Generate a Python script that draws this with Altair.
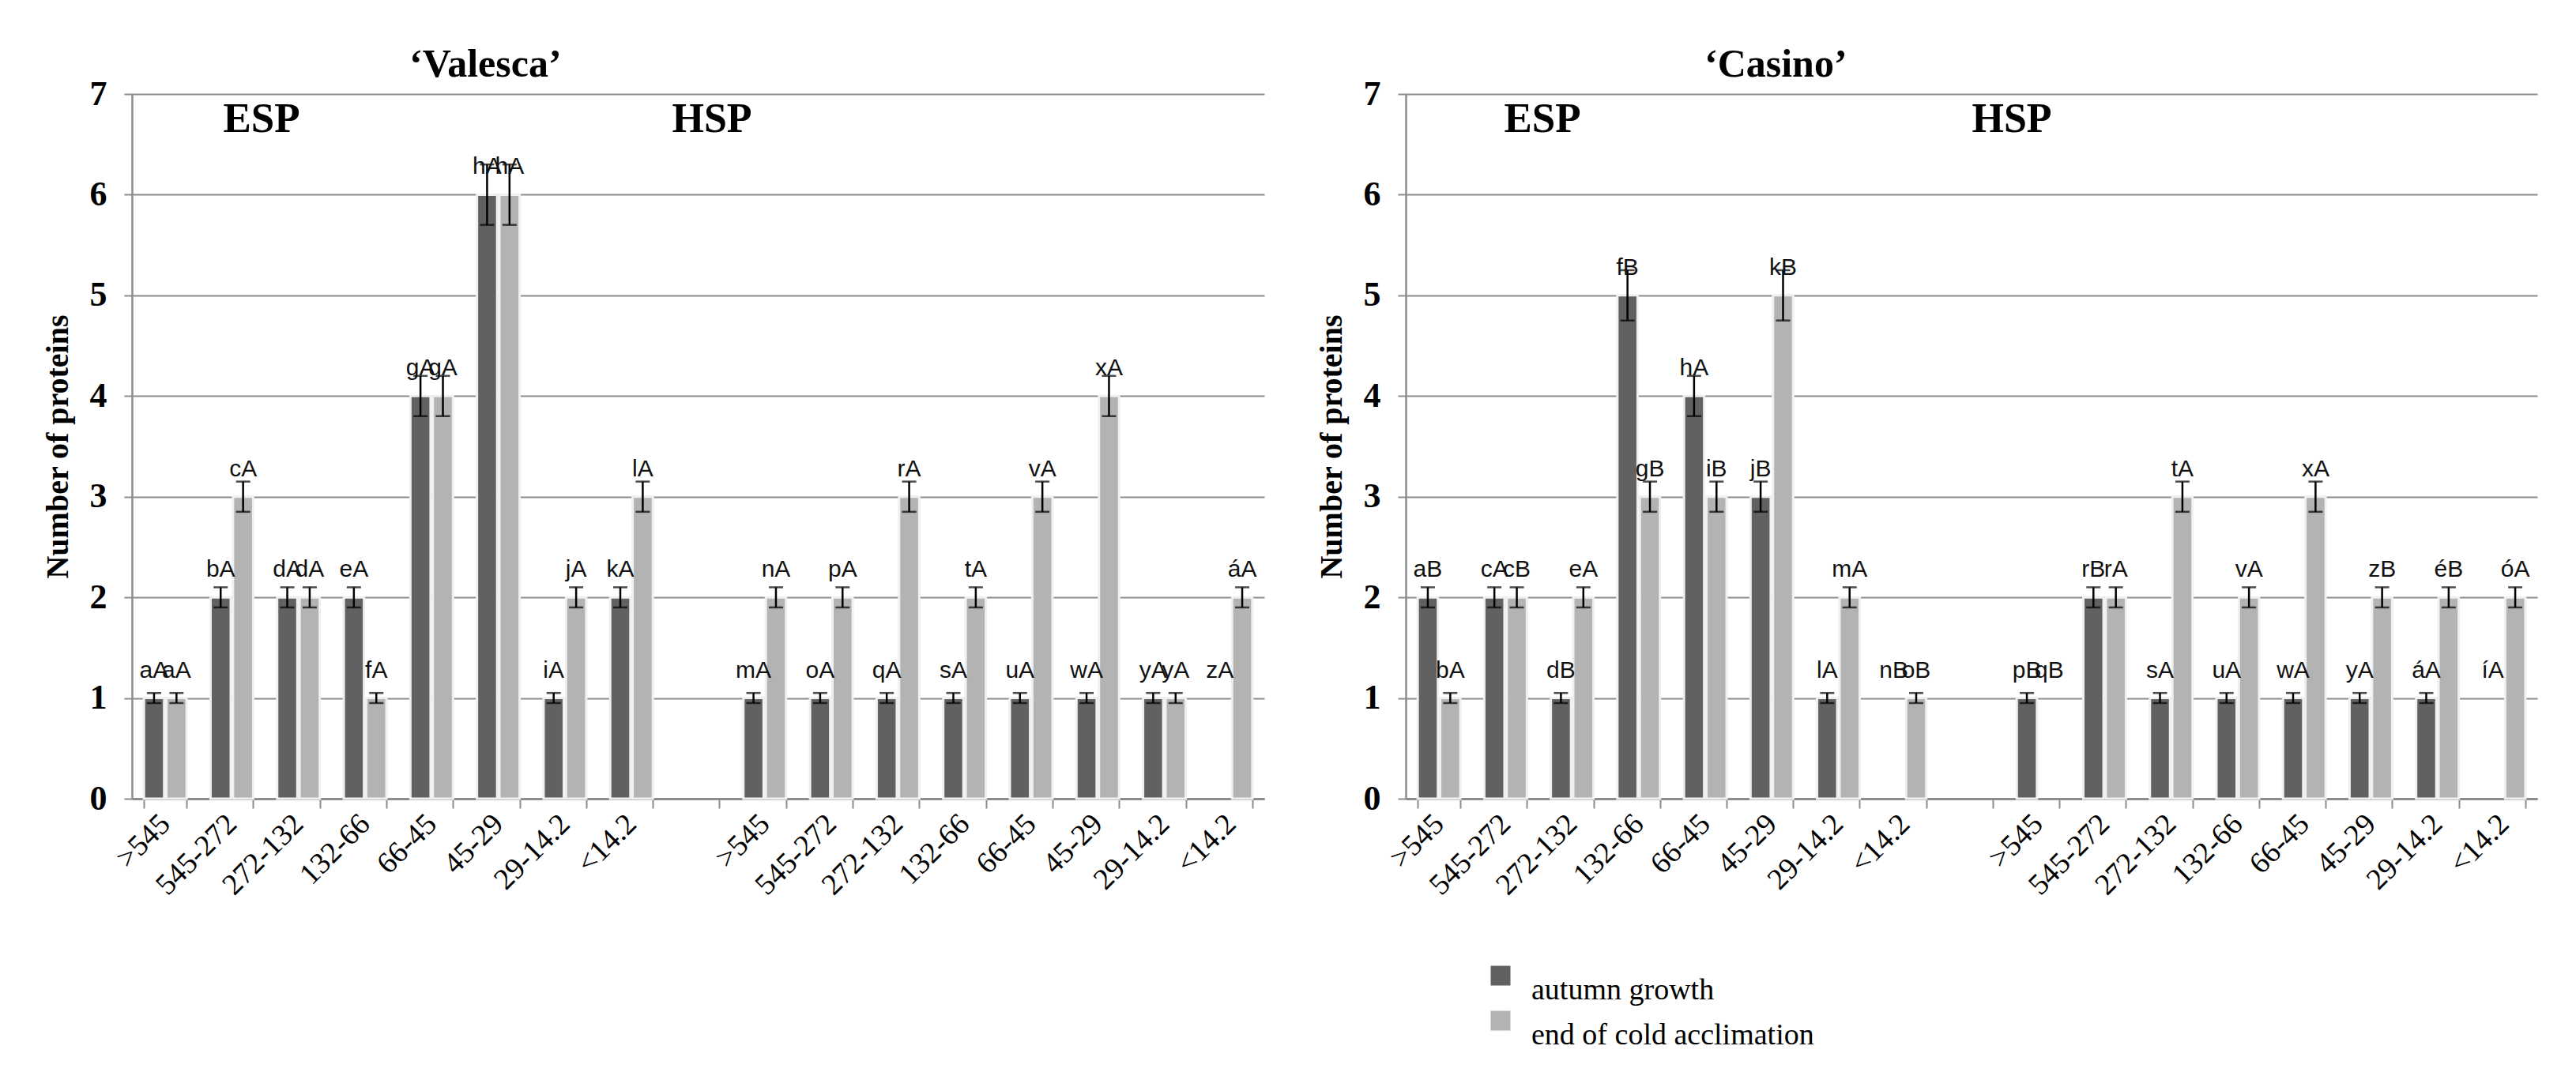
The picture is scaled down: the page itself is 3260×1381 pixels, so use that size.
import altair as alt
import pandas as pd

size_classes = [">545", "545-272", "272-132", "132-66", "66-45", "45-29", "29-14.2", "<14.2"]
groups = ["ESP", "HSP"]
series_names = ["autumn growth", "end of cold acclimation"]

# 'Valesca' (ESP classes then HSP classes)
val_autumn = [1, 2, 2, 2, 4, 6, 1, 2, 1, 1, 1, 1, 1, 1, 1, 0]
val_autumn_err = [0.05, 0.1, 0.1, 0.1, 0.2, 0.3, 0.05, 0.1, 0.05, 0.05, 0.05, 0.05, 0.05, 0.05, 0.05, 0]
val_autumn_lbl = ["aA", "bA", "dA", "eA", "gA", "hA", "iA", "kA", "mA", "oA", "qA", "sA", "uA", "wA", "yA", "zA"]
val_cold = [1, 3, 2, 1, 4, 6, 2, 3, 2, 2, 3, 2, 3, 4, 1, 2]
val_cold_err = [0.05, 0.15, 0.1, 0.05, 0.2, 0.3, 0.1, 0.15, 0.1, 0.1, 0.15, 0.1, 0.15, 0.2, 0.05, 0.1]
val_cold_lbl = ["aA", "cA", "dA", "fA", "gA", "hA", "jA", "lA", "nA", "pA", "rA", "tA", "vA", "xA", "yA", "áA"]

# 'Casino'
cas_autumn = [2, 2, 1, 5, 4, 3, 1, 0, 1, 2, 1, 1, 1, 1, 1, 0]
cas_autumn_err = [0.1, 0.1, 0.05, 0.25, 0.2, 0.15, 0.05, 0, 0.05, 0.1, 0.05, 0.05, 0.05, 0.05, 0.05, 0]
cas_autumn_lbl = ["aB", "cA", "dB", "fB", "hA", "jB", "lA", "nB", "pB", "rB", "sA", "uA", "wA", "yA", "áA", "íA"]
cas_cold = [1, 2, 2, 3, 3, 5, 2, 1, 0, 2, 3, 2, 3, 2, 2, 2]
cas_cold_err = [0.05, 0.1, 0.1, 0.15, 0.15, 0.25, 0.1, 0.05, 0, 0.1, 0.15, 0.1, 0.15, 0.1, 0.1, 0.1]
cas_cold_lbl = ["bA", "cB", "eA", "gB", "iB", "kB", "mA", "oB", "qB", "rA", "tA", "vA", "xA", "zB", "éB", "óA"]

keys = [f"{g}|{s}" for g in groups for s in size_classes]
x_domain = keys[:8] + ["gap|"] + keys[8:]

DARK = "#616161"
LIGHT = "#b3b3b3"
GRID = "#8c8c8c"
SERIF = "Liberation Serif"


def make_df(a, a_err, a_lbl, c, c_err, c_lbl):
    rows = []
    for i, k in enumerate(keys):
        rows.append(dict(key=k, series=series_names[0], value=a[i], err=a_err[i], letter=a_lbl[i]))
        rows.append(dict(key=k, series=series_names[1], value=c[i], err=c_err[i], letter=c_lbl[i]))
    return pd.DataFrame(rows)


y_scale = alt.Scale(domain=[0, 7], nice=False)
y_axis = alt.Axis(values=list(range(8)), title="Number of proteins", grid=True)


def panel(df, title, title_dx, esp_x, hsp_x, width, height):
    x_enc = alt.X("key:N", sort=x_domain,
                  scale=alt.Scale(domain=x_domain, paddingInner=0.36, paddingOuter=0.18),
                  axis=alt.Axis(title=None, labelExpr="split(datum.value, '|')[1]",
                                tickBand="extent", labelAngle=-45, labelAlign="right",
                                labelBaseline="middle", labelPadding=14, tickSize=12,
                                labelFont=SERIF, labelFontSize=38, labelFontWeight="normal",
                                grid=False))
    xo = alt.XOffset("series:N", sort=series_names,
                     scale=alt.Scale(domain=series_names, paddingInner=0.1))
    base = alt.Chart(df).encode(x=x_enc, xOffset=xo)

    bars = base.transform_filter("datum.value > 0").mark_bar(
        stroke="#f0f0f0", strokeWidth=3
    ).encode(
        y=alt.Y("value:Q", scale=y_scale, axis=y_axis),
        color=alt.Color("series:N", sort=series_names,
                        scale=alt.Scale(domain=series_names, range=[DARK, LIGHT]),
                        legend=alt.Legend(title=None, orient="none", legendX=1713, legendY=1097,
                                          symbolType="square", symbolSize=625,
                                          symbolStrokeWidth=0, labelFont=SERIF,
                                          labelFontSize=38, labelBaseline="top",
                                          labelOffset=20, rowPadding=0, labelLimit=0)),
    )
    err = base.transform_filter("datum.err > 0").transform_calculate(
        lo="datum.value - datum.err", hi="datum.value + datum.err")
    rule = err.mark_rule(color="black", strokeWidth=2.5).encode(
        y=alt.Y("lo:Q", scale=y_scale, axis=y_axis), y2="hi:Q")
    cap_lo = err.mark_tick(color="black", thickness=2.5, size=18).encode(
        y=alt.Y("lo:Q", scale=y_scale, axis=y_axis))
    cap_hi = err.mark_tick(color="black", thickness=2.5, size=18).encode(
        y=alt.Y("hi:Q", scale=y_scale, axis=y_axis))
    labels = base.transform_calculate(
        lab_y="datum.value > 0 ? datum.value : 1").mark_text(
        font="Liberation Sans Narrow, Liberation Sans, sans-serif", fontSize=30,
        baseline="alphabetic", dy=-26, color="#111111"
    ).encode(y=alt.Y("lab_y:Q", scale=y_scale, axis=y_axis), text="letter:N")

    ann_df = pd.DataFrame({"t": ["ESP"]})
    esp = alt.Chart(ann_df).mark_text(text="ESP", font=SERIF, fontSize=53, fontWeight="bold",
                                      baseline="middle", align="center").encode(
        x=alt.value(esp_x), y=alt.value(32))
    hsp = alt.Chart(ann_df).mark_text(text="HSP", font=SERIF, fontSize=52, fontWeight="bold",
                                      baseline="middle", align="center").encode(
        x=alt.value(hsp_x), y=alt.value(32))

    return alt.layer(bars, rule, cap_lo, cap_hi, labels, esp, hsp).properties(
        width=width, height=height,
        title=alt.Title(title, font=SERIF, fontSize=50, fontWeight="bold", anchor="start",
                        dx=title_dx, offset=-10, color="black"),
    )


left = panel(make_df(val_autumn, val_autumn_err, val_autumn_lbl, val_cold, val_cold_err, val_cold_lbl),
             "‘Valesca’", 465, 164, 734, 1433, 892)
right = panel(make_df(cas_autumn, cas_autumn_err, cas_autumn_lbl, cas_cold, cas_cold_err, cas_cold_lbl),
              "‘Casino’", 492, 173, 767, 1432, 892)

chart = alt.hconcat(left, right, spacing=65).properties(
    padding={"left": 45, "top": 49, "right": 10, "bottom": 10},
    background="white",
).configure_view(stroke=None).configure_axis(
    domainColor=GRID, tickColor=GRID, gridColor=GRID, domainWidth=2.5, tickWidth=2, gridWidth=2,
    labelColor="black", titleColor="black",
).configure_axisY(
    labelFont=SERIF, labelFontSize=44, labelFontWeight="bold", labelPadding=22, tickSize=10,
    titleFont=SERIF, titleFontSize=40, titleFontWeight="bold", titlePadding=20,
).configure_axisX(domainWidth=3)

chart.save("out.html", embed_options={"renderer": "svg", "actions": False})
